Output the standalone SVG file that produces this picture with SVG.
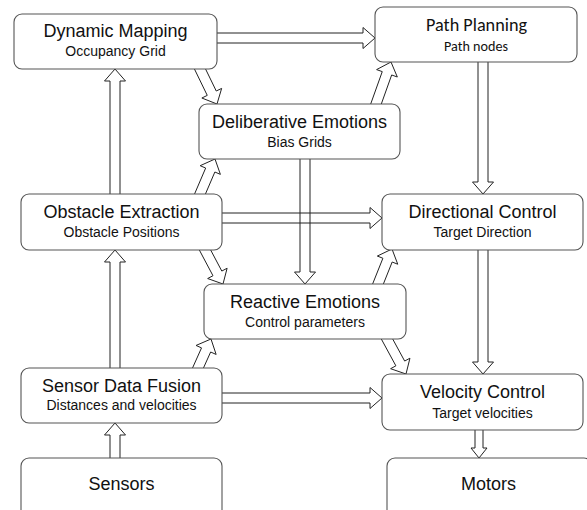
<svg xmlns="http://www.w3.org/2000/svg" width="587" height="510" viewBox="0 0 587 510">
<style>
.box{fill:#fff;stroke:#555;stroke-width:1.1}
.arr{fill:none;stroke:#222;stroke-width:1;stroke-linejoin:miter}
.t{font-family:"Liberation Sans",Arial,sans-serif;font-size:18px;fill:#111;text-anchor:middle}
.s{font-family:"Liberation Sans",Arial,sans-serif;font-size:14px;fill:#111;text-anchor:middle}
.ct{font-family:Carlito,Lato,sans-serif;font-size:18px;fill:#111;text-anchor:middle}
.cs{font-family:Carlito,Lato,sans-serif;font-size:14px;fill:#111;text-anchor:middle}
</style>
<rect width="587" height="510" fill="#fff"/>
<g id="connectors">
<path class="arr" d="M214,33 L363,33 L363,27.5 L375,38 L363,48.5 L363,43 L214,43"/>
<path class="arr" d="M193.75,67.58 L207.26,95.39 L201.87,98.02 L217,104 L221.65,88.40 L216.26,91.03 L202.75,63.22"/>
<path class="arr" d="M110,197 L110,81 L104.5,81 L115,69 L125.5,81 L120,81 L120,197"/>
<path class="arr" d="M203.02,199.65 L214.87,172.00 L220.38,174.36 L215,159 L200.16,165.70 L205.67,168.06 L193.82,195.71"/>
<path class="arr" d="M379.36,109.45 L391.67,74.98 L397.32,77.00 L391,62 L376.60,69.60 L382.25,71.62 L369.94,106.09"/>
<path class="arr" d="M300,156 L300,272 L294.5,272 L305,284 L315.5,272 L310,272 L310,156"/>
<path class="arr" d="M219,213 L370,213 L370,207.5 L382,218 L370,228.5 L370,223 L219,223"/>
<path class="arr" d="M198.71,248.80 L212.97,275.73 L207.67,278.54 L223,284 L227.11,268.24 L221.81,271.05 L207.55,244.12"/>
<path class="arr" d="M381.15,289.57 L392.18,262.00 L397.75,264.23 L392,249 L377.33,256.05 L382.90,258.28 L371.87,285.85"/>
<path class="arr" d="M478,59 L478,182 L472.5,182 L483,194 L493.5,182 L488,182 L488,59"/>
<path class="arr" d="M478,247 L478,362 L472.5,362 L483,374 L493.5,362 L488,362 L488,247"/>
<path class="arr" d="M380.70,337.87 L395.88,365.84 L390.60,368.70 L406,374 L409.94,358.20 L404.66,361.06 L389.48,333.09"/>
<path class="arr" d="M200.92,373.70 L210.65,352.00 L216.13,354.45 L211,339 L196.05,345.45 L201.53,347.90 L191.80,369.60"/>
<path class="arr" d="M110,371 L110,262 L104.5,262 L115,250 L125.5,262 L120,262 L120,371"/>
<path class="arr" d="M219,393 L370,393 L370,387.5 L382,398 L370,408.5 L370,403 L219,403"/>
<path class="arr" d="M110,461 L110,435 L104.5,435 L115,423 L125.5,435 L120,435 L120,461"/>
<path class="arr" d="M475,427 L475,448 L471,448 L479,458 L487,448 L483,448 L483,427"/>
</g>
<g id="dynamic-mapping">
<rect class="box" x="14" y="14" width="203" height="55" rx="8"/>
<text class="t" x="115.5" y="37">Dynamic Mapping</text>
<text class="s" x="115.5" y="56">Occupancy Grid</text>
</g>
<g id="path-planning">
<rect class="box" x="375" y="7" width="202" height="55" rx="8"/>
<text class="ct" x="476.5" y="31" textLength="101" lengthAdjust="spacingAndGlyphs">Path Planning</text>
<text class="cs" x="476" y="51" textLength="64" lengthAdjust="spacingAndGlyphs">Path nodes</text>
</g>
<g id="deliberative-emotions">
<rect class="box" x="199" y="104" width="201" height="55" rx="8"/>
<text class="t" x="299.5" y="128">Deliberative Emotions</text>
<text class="s" x="299.5" y="147">Bias Grids</text>
</g>
<g id="obstacle-extraction">
<rect class="box" x="21" y="194" width="201" height="56" rx="8"/>
<text class="t" x="121.5" y="218">Obstacle Extraction</text>
<text class="s" x="121.5" y="237">Obstacle Positions</text>
</g>
<g id="directional-control">
<rect class="box" x="382" y="194" width="201" height="56" rx="8"/>
<text class="t" x="482.5" y="218">Directional Control</text>
<text class="s" x="482.5" y="237">Target Direction</text>
</g>
<g id="reactive-emotions">
<rect class="box" x="204" y="284" width="202" height="55" rx="8"/>
<text class="t" x="305" y="308">Reactive Emotions</text>
<text class="s" x="305" y="327">Control parameters</text>
</g>
<g id="sensor-data-fusion">
<rect class="box" x="21" y="368" width="201" height="55" rx="8"/>
<text class="t" x="121.5" y="392">Sensor Data Fusion</text>
<text class="s" x="121.5" y="410">Distances and velocities</text>
</g>
<g id="velocity-control">
<rect class="box" x="382" y="374" width="201" height="56" rx="8"/>
<text class="t" x="482.5" y="398">Velocity Control</text>
<text class="s" x="482.5" y="418">Target velocities</text>
</g>
<g id="sensors">
<rect class="box" x="21" y="458" width="201" height="62" rx="8"/>
<text class="t" x="121.5" y="490">Sensors</text>
</g>
<g id="motors">
<rect class="box" x="387" y="458" width="205" height="62" rx="8"/>
<text class="t" x="488.5" y="490">Motors</text>
</g>
</svg>
